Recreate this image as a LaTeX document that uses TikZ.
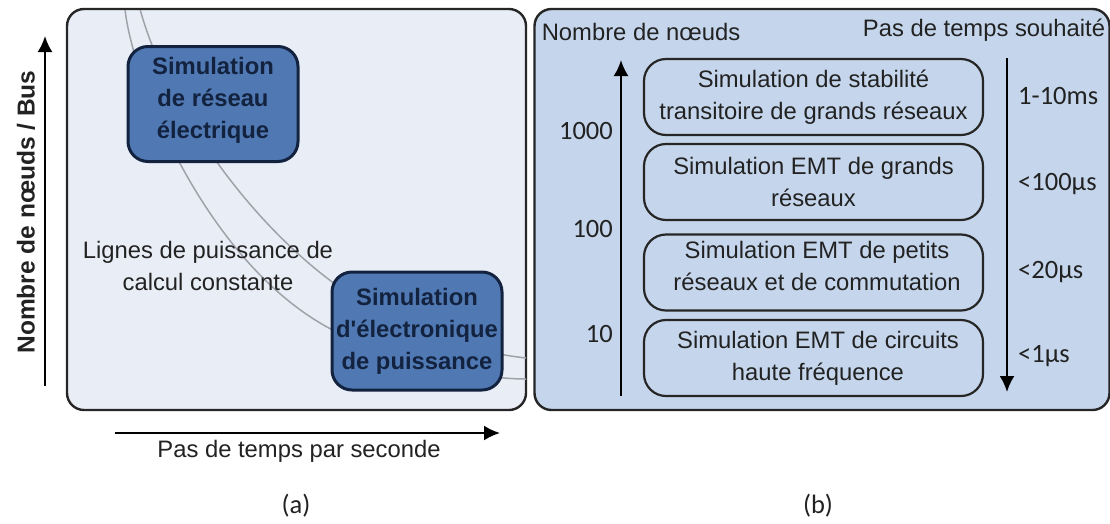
\documentclass[tikz,border=0pt]{standalone}
\usepackage{fontspec}
\setmainfont{Liberation Sans}
\newfontfamily\carlitofont{Carlito}
\usetikzlibrary{arrows.meta}
\definecolor{panelA}{HTML}{E9EEF6}
\definecolor{panelB}{HTML}{C5D6EC}
\definecolor{boxblue}{HTML}{5079B3}
\definecolor{boxline}{HTML}{12223F}
\definecolor{curveg}{HTML}{9FA3A9}
\definecolor{txt}{HTML}{222222}
\tikzset{
  panel/.style={draw=black!85,line width=2.4pt,rounded corners=17pt},
  simbox/.style={draw=boxline,fill=boxblue,line width=3pt,rounded corners=20pt,minimum width=170pt,minimum height=115pt,align=center,text=boxline,font=\fontsize{23.8}{32}\selectfont\bfseries},
  listbox/.style={draw=black!85,line width=2.2pt,rounded corners=22pt,minimum width=339pt,minimum height=76pt,align=center,text=txt,font=\fontsize{23.8}{32}\selectfont},
  lab/.style={text=txt,font=\fontsize{23.8}{32}\selectfont,align=center,inner sep=0pt},
  num/.style={text=txt,font=\carlitofont\fontsize{26.5}{32}\selectfont,inner sep=0pt},
  arr/.style={draw=black,line width=2.2pt,-{Latex[length=16pt,width=15pt]}},
  curve/.style={draw=curveg,line width=1.5pt}
}
\begin{document}
\begin{tikzpicture}[x=1pt,y=-1pt]
\useasboundingbox (0,0) rectangle (1110,523);
\fill[white] (0,0) rectangle (1110,523);
\node[panel,fill=panelA,minimum width=459pt,minimum height=401pt,inner sep=0pt] (pa) at (296.5,209.5) {};
\node[panel,fill=panelB,minimum width=575pt,minimum height=401pt,inner sep=0pt] (pb) at (822,209.5) {};
\begin{scope}
\clip (67,10) rectangle (526,409);
\draw[curve] (125,9) .. controls (132,80) and (215,290) .. (360,342) .. controls (420,364) and (480,379) .. (526,379);
\draw[curve] (140,9) .. controls (170,120) and (280,270) .. (400,322) .. controls (450,344) and (490,354) .. (526,358);
\end{scope}
\node[simbox] (s1) at (213,104) {};
\node[lab,text=boxline,font=\fontsize{23.8}{32}\selectfont\bfseries] (s1t) at (213,100) {Simulation\\de réseau\\électrique};
\node[simbox,minimum height=118pt] (s2) at (417,331) {Simulation\\d\textquotesingle électronique\\de puissance};
\node[lab] (lp) at (208,266) {Lignes de puissance de\\calcul constante};
\coordinate (ya) at (45,386);
\coordinate (yb) at (45,36);
\draw[arr] (ya) -- (yb);
\node[lab,rotate=90,font=\fontsize{24.5}{28}\selectfont\bfseries] (yl) at (26,212) {Nombre de nœuds / Bus};
\coordinate (xa) at (115,433);
\coordinate (xb) at (500,433);
\draw[arr] (xa) -- (xb);
\node[lab] (xl) at (299,451) {Pas de temps par seconde};
\node[num] (ca) at (296,506) {(a)};
\node[num] (cb) at (818,506) {(b)};
\node[lab] (n) at (641,32) {Nombre de nœuds};
\node[lab] (p) at (984,30) {Pas de temps souhaité};
\node[listbox] (b1) at (813.5,97) {Simulation de stabilité\\transitoire de grands réseaux};
\node[listbox] (b2) at (813.5,182) {Simulation EMT de grands\\réseaux};
\node[listbox] (b3) at (813.5,272.5) {};
\node[lab] (b3t) at (817,266) {Simulation EMT de petits\\réseaux et de commutation};
\node[listbox] (b4) at (813.5,358) {\hspace*{9pt}Simulation EMT de circuits\\\hspace*{9pt}haute fréquence};
\coordinate (ua) at (621,396);
\coordinate (ub) at (621,60);
\draw[arr] (ua) -- (ub);
\coordinate (da) at (1007,58);
\coordinate (db) at (1007,392);
\draw[arr] (da) -- (db);
\node[num,anchor=east] (t1) at (613,131) {1000};
\node[num,anchor=east] (t2) at (613,229) {100};
\node[num,anchor=east] (t3) at (613,334) {10};
\node[num,anchor=west] (r1) at (1018,96) {1-10ms};
\node[num,anchor=west] (r2) at (1018,184) {<100µs};
\node[num,anchor=west] (r3) at (1018,272) {<20µs};
\node[num,anchor=west] (r4) at (1018,356) {<1µs};
\end{tikzpicture}
\end{document}
